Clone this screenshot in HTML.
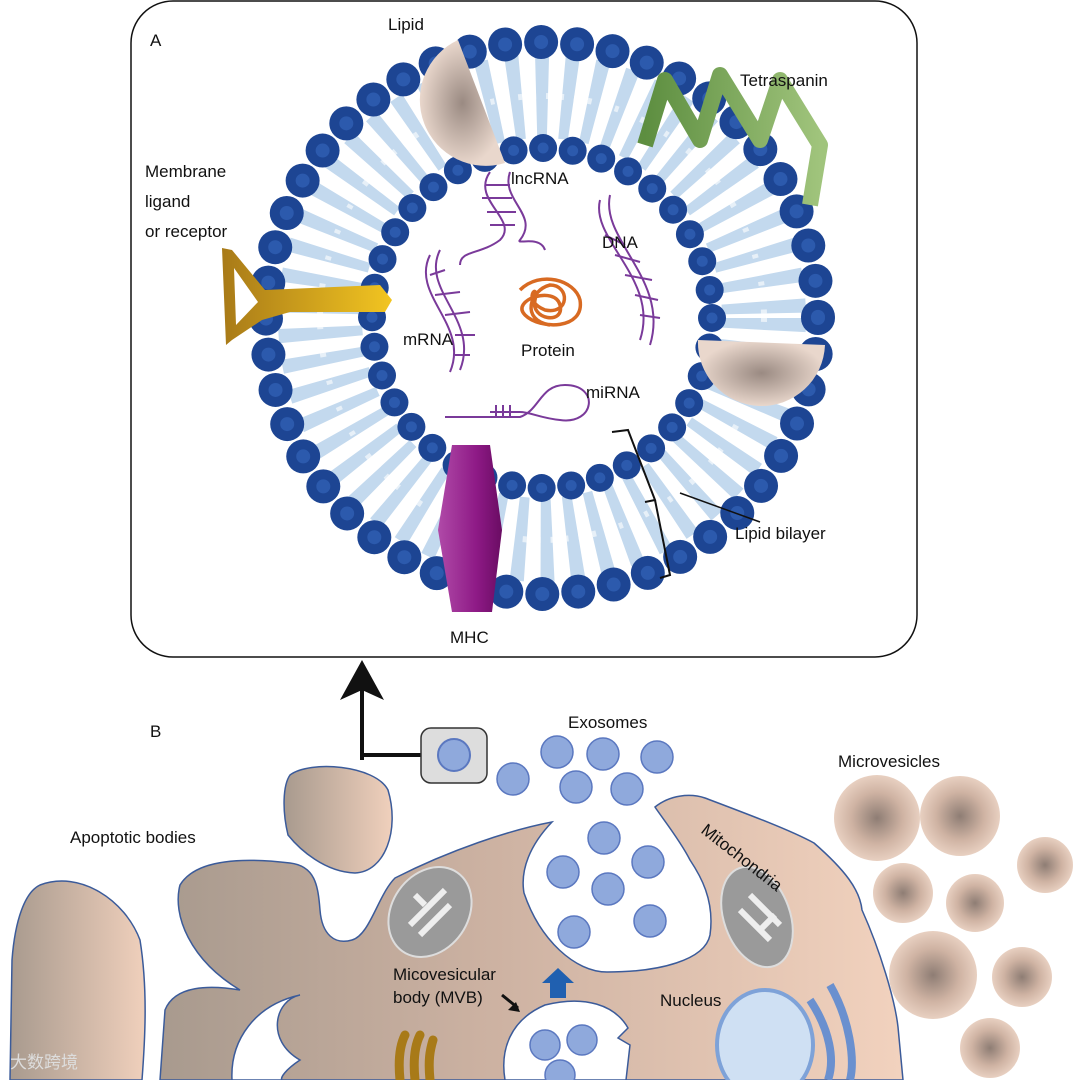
<!DOCTYPE html>
<html><head><meta charset="utf-8"><style>
html,body{margin:0;padding:0;background:#fff}
svg{display:block}
text{font-family:"Liberation Sans",Arial,sans-serif;font-size:17px;fill:#111}
</style></head><body>
<svg width="1080" height="1080" viewBox="0 0 1080 1080" xmlns="http://www.w3.org/2000/svg">
<defs>
<linearGradient id="cell" x1="0" x2="1" y1="0" y2="0">
<stop offset="0" stop-color="#a89a8e"/><stop offset="0.45" stop-color="#cdb2a2"/><stop offset="1" stop-color="#f2d2be"/></linearGradient>
<linearGradient id="ab" x1="0" x2="1"><stop offset="0" stop-color="#a89a8e"/><stop offset="1" stop-color="#f0d0bc"/></linearGradient>
<radialGradient id="mv"><stop offset="0" stop-color="#8e7d74"/><stop offset="0.6" stop-color="#cfb3a3"/><stop offset="1" stop-color="#e8d0c1"/></radialGradient>
<radialGradient id="lip"><stop offset="0" stop-color="#9a8a82"/><stop offset="1" stop-color="#e9d7cc"/></radialGradient>
<linearGradient id="mhc" x1="0" x2="1"><stop offset="0" stop-color="#b04aa8"/><stop offset="0.6" stop-color="#8e1a86"/><stop offset="1" stop-color="#6a0c63"/></linearGradient>
<linearGradient id="gold" x1="0" x2="1"><stop offset="0" stop-color="#a87a18"/><stop offset="1" stop-color="#f2c521"/></linearGradient>
<linearGradient id="grn" x1="0" x2="1"><stop offset="0" stop-color="#5d8e40"/><stop offset="1" stop-color="#a0c47c"/></linearGradient>
</defs>
<rect x="131" y="1" width="786" height="656" rx="42" fill="#fff" stroke="#111" stroke-width="1.5"/>
<text x="150" y="46">A</text>
<circle cx="542" cy="318" r="222" fill="none" stroke="#c3d9ee" stroke-width="84" stroke-dasharray="12 14"/>
<circle cx="542" cy="318" r="222" fill="none" stroke="#fff" stroke-width="6" stroke-dasharray="4 10" opacity="0.6"/>
<circle cx="542" cy="318" r="276" fill="none" stroke="#1d4593" stroke-width="34" stroke-linecap="round" stroke-dasharray="0 36.1"/>
<circle cx="542" cy="318" r="276" fill="none" stroke="#2c5aad" stroke-width="14" stroke-linecap="round" stroke-dasharray="0 36.1"/>
<circle cx="542" cy="318" r="170" fill="none" stroke="#1d4593" stroke-width="28" stroke-linecap="round" stroke-dasharray="0 29.7"/>
<circle cx="542" cy="318" r="170" fill="none" stroke="#2c5aad" stroke-width="11" stroke-linecap="round" stroke-dasharray="0 29.7"/>
<path d="M458,40 A66,66 0 0 0 505,163 Z" fill="url(#lip)"/>
<path d="M698,340 L825,345 A63,63 0 0 1 698,340 Z" fill="url(#lip)"/>
<text x="388" y="30">Lipid</text>
<path d="M645,145 L665,80 L700,140 L720,75 L760,140 L780,80 L820,145 L810,205" fill="none" stroke="url(#grn)" stroke-width="16" stroke-linejoin="round"/>
<text x="740" y="86">Tetraspanin</text>
<path d="M222,248 L232,250 L265,290 L380,285 L392,300 L385,312 L290,312 L262,320 L232,340 L226,345 Z M234,268 L236,325 L258,302 Z" fill="url(#gold)" fill-rule="evenodd"/>
<text x="145" y="177">Membrane</text><text x="145" y="207">ligand</text><text x="145" y="237">or receptor</text>
<polygon points="452,445 490,445 502,530 492,612 452,612 438,530" fill="url(#mhc)"/>
<text x="450" y="643">MHC</text>
<g fill="none" stroke="#7a3a9a" stroke-width="2">
<path d="M490,172 C470,200 520,220 500,240 C480,255 460,250 460,265 M510,172 C500,200 540,215 520,240 C515,245 540,235 545,250"/>
<path d="M485,185 L510,185 M482,198 L512,198 M487,212 L516,212 M490,225 L515,225"/>
<path d="M600,200 C590,240 660,280 640,340 M610,195 C600,240 670,280 650,345"/>
<path d="M605,235 L625,245 M615,255 L640,262 M625,275 L652,280 M635,295 L658,300 M640,315 L660,318"/>
<path d="M440,250 C420,290 480,320 460,370 M430,255 C410,295 470,325 450,372"/>
<path d="M430,275 L445,270 M435,295 L460,292 M445,315 L470,312 M455,335 L475,335 M455,355 L470,355"/>
<path d="M445,417 L520,417 C540,410 540,385 565,385 C600,385 595,425 560,420 C540,418 530,412 520,412 L490,412 M496,405 L496,418 M503,405 L503,418 M510,405 L510,418"/>
</g>
<path d="M520,290 C540,270 575,280 580,300 C585,330 540,330 525,315 C510,300 555,285 560,305 C565,325 530,320 535,300 C540,280 520,300 545,310 C570,315 570,285 550,285 C530,290 520,320 550,325" fill="none" stroke="#d86a22" stroke-width="3.5"/>
<text x="511" y="184">lncRNA</text><text x="602" y="248">DNA</text><text x="403" y="345">mRNA</text><text x="521" y="356">Protein</text><text x="586" y="398">miRNA</text>
<path d="M612,432 L628,430 L655,500 L645,502 M655,500 L670,575 L660,578" fill="none" stroke="#111" stroke-width="2"/>
<line x1="680" y1="493" x2="760" y2="522" stroke="#111" stroke-width="1.5"/>
<text x="735" y="539">Lipid bilayer</text>
<path d="M362,760 L362,690 M362,755 L422,755" stroke="#111" stroke-width="4" fill="none"/>
<polygon points="340,700 362,660 384,700 362,690" fill="#111"/>
<rect x="421" y="728" width="66" height="55" rx="10" fill="#ddd" stroke="#333" stroke-width="1.5"/>
<circle cx="454" cy="755" r="16" fill="#8fa9dc" stroke="#5b78c0" stroke-width="2"/>
<text x="150" y="737">B</text>
<text x="568" y="728">Exosomes</text>
<text x="838" y="767">Microvesicles</text>
<text x="70" y="843">Apoptotic bodies</text>
<path d="M290,775 C310,760 375,765 388,790 C400,830 385,872 355,873 C325,872 300,850 288,835 C282,810 283,785 290,775 Z" fill="url(#ab)" stroke="#3b5b9a" stroke-width="1.5"/>
<path d="M40,885 C80,870 125,900 140,940 C148,990 145,1040 142,1080 L10,1080 L12,960 C15,920 25,892 40,885 Z" fill="url(#ab)" stroke="#3b5b9a" stroke-width="1.5"/>
<path d="M160,1080 L165,1010 C175,985 210,985 240,990 C190,960 172,915 180,885 C195,860 240,857 290,863 C315,866 318,885 320,910 C322,935 335,945 352,940 C370,935 378,895 395,878 C450,850 510,830 552,822 C530,845 520,870 524,893 C540,940 575,972 607,972 C660,972 705,960 710,935 C715,900 700,875 690,860 C680,840 660,815 655,807 C670,795 690,793 705,798 C750,815 790,830 814,843 C845,870 860,890 862,910 C880,950 895,1000 898,1027 L903,1080 Z" fill="url(#cell)" stroke="#3b5b9a" stroke-width="1.5"/>
<path d="M300,995 C275,1000 265,1040 300,1060 C285,1070 280,1078 282,1080 L232,1080 C230,1040 255,1005 300,995 Z" fill="#fff" stroke="#3b5b9a" stroke-width="1.5"/>
<path d="M505,1080 C500,1050 510,1020 545,1005 C585,995 615,1005 628,1028 L618,1038 L630,1045 L626,1080 Z" fill="#fff" stroke="#3b5b9a" stroke-width="1.5"/>
<g fill="#8fa9dc" stroke="#5b78c0" stroke-width="1.5">
<circle cx="513" cy="779" r="16"/><circle cx="557" cy="752" r="16"/><circle cx="603" cy="754" r="16"/><circle cx="657" cy="757" r="16"/><circle cx="576" cy="787" r="16"/><circle cx="627" cy="789" r="16"/>
<circle cx="604" cy="838" r="16"/><circle cx="648" cy="862" r="16"/><circle cx="563" cy="872" r="16"/><circle cx="608" cy="889" r="16"/><circle cx="574" cy="932" r="16"/><circle cx="650" cy="921" r="16"/>
<circle cx="545" cy="1045" r="15"/><circle cx="582" cy="1040" r="15"/><circle cx="560" cy="1075" r="15"/>
</g>
<ellipse cx="430" cy="912" rx="38" ry="48" transform="rotate(35 430 912)" fill="#9a9a9a" stroke="#ddd" stroke-width="2"/>
<ellipse cx="757" cy="917" rx="33" ry="52" transform="rotate(-20 757 917)" fill="#9a9a9a" stroke="#ddd" stroke-width="2"/>
<path d="M410,925 L445,890 M420,935 L450,905 M425,905 L415,895 M780,925 L750,895 M770,940 L740,910 M760,930 L775,915" stroke="#eee" stroke-width="6"/>
<text x="700" y="832" transform="rotate(38 700 832)" font-size="16">Mitochondria</text>
<ellipse cx="765" cy="1045" rx="48" ry="55" fill="#cfe0f3" stroke="#7ea2d8" stroke-width="4"/>
<path d="M810,1000 C830,1030 835,1060 828,1080 M830,985 C850,1020 855,1060 850,1080" stroke="#6a90cf" stroke-width="8" fill="none"/>
<path d="M400,1080 C398,1060 400,1045 405,1035 M415,1080 C413,1060 415,1045 420,1035 M430,1080 C428,1060 430,1050 433,1040" stroke="#a87a18" stroke-width="9" fill="none" stroke-linecap="round"/>
<polygon points="550,998 550,983 542,983 558,968 574,983 566,983 566,998" fill="#2060b0"/>
<path d="M502,995 L518,1008" stroke="#111" stroke-width="3"/><polygon points="520,1012 508,1010 516,1002" fill="#111"/>
<text x="393" y="980">Micovesicular</text><text x="393" y="1003">body (MVB)</text>
<text x="660" y="1006">Nucleus</text>
<g fill="url(#mv)">
<circle cx="877" cy="818" r="43"/><circle cx="960" cy="816" r="40"/><circle cx="1045" cy="865" r="28"/><circle cx="903" cy="893" r="30"/><circle cx="975" cy="903" r="29"/><circle cx="933" cy="975" r="44"/><circle cx="1022" cy="977" r="30"/><circle cx="990" cy="1048" r="30"/>
</g>
<text x="10" y="1068" style="fill:#ddd">大数跨境</text>
</svg>
</body></html>
